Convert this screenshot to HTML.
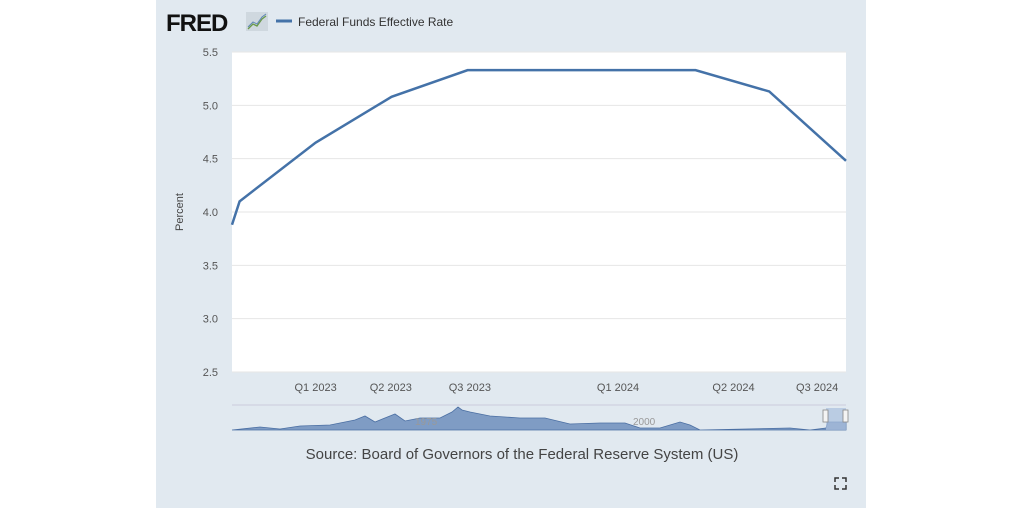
<!DOCTYPE html>
<html><head><meta charset="utf-8"><style>
html,body{margin:0;padding:0;background:#fff;}
body{width:1024px;height:512px;position:relative;overflow:hidden;font-family:"Liberation Sans",sans-serif;}
#panel{position:absolute;left:156px;top:0;width:710px;height:508px;background:#e1e9f0;}
</style></head><body>
<div id="panel"></div>
<svg width="1024" height="512" style="position:absolute;left:0;top:0">
<text x="166" y="31" font-size="24" font-weight="bold" fill="#111" letter-spacing="-1">FRED</text>
<g><rect x="246" y="12" width="22" height="19" fill="#cfd8df"/><polyline points="248,29 253,24 257,26 262,19 266,16" fill="none" stroke="#6a9a4a" stroke-width="1.3"/><polyline points="248,27 253,22 257,24 262,17 266,14" fill="none" stroke="#5f86b5" stroke-width="1"/></g>
<line x1="276" y1="21" x2="292" y2="21" stroke="#4472a8" stroke-width="3"/>
<text x="298" y="26" font-size="12" fill="#333">Federal Funds Effective Rate</text>
<rect x="232" y="52" width="614" height="320" fill="#fff"/>
<g id="grid"></g><g id="yt"></g><g id="xt"></g>
<text transform="translate(183,212) rotate(-90)" text-anchor="middle" font-size="11" fill="#444">Percent</text>
<path id="line" fill="none" stroke="#4472a8" stroke-width="2.5"/>
<g>
<line x1="232" y1="405" x2="846" y2="405" stroke="#ccd" />
<path d="M232,430 L260,427 L280,429 L300,426 L330,425 L355,420 L365,416 L375,422 L395,414 L405,421 L420,418 L440,418 L452,412 L458,407 L462,410 L470,412 L490,416 L520,418 L545,418 L570,424 L600,423 L625,423 L640,428 L660,428 L680,422 L690,425 L700,430 L790,428 L810,430 L826,428 L828,422 L846,422 L846,430 Z" fill="#7f9cc4" stroke="#4b6fa3" stroke-width="0.8"/>
<rect x="826" y="408" width="20" height="22" fill="#a9bfdd" opacity="0.7"/>
<rect x="823" y="410" width="5" height="12" fill="#f4f4f4" stroke="#888" stroke-width="0.8"/>
<rect x="843" y="410" width="5" height="12" fill="#f4f4f4" stroke="#888" stroke-width="0.8"/>
<text x="415" y="425" font-size="10" fill="#999">1975</text><text x="633" y="425" font-size="10" fill="#999">2000</text>
</g>
<text x="522" y="459" text-anchor="middle" font-size="15" fill="#444">Source: Board of Governors of the Federal Reserve System (US)</text>
<g stroke="#333" stroke-width="1.5" fill="none">
<path d="M835,482 v-4 h4 M842,478 h4 v4 M846,485 v4 h-4 M839,489 h-4 v-4"/></g>
</svg>
<script>
const xValues=[0,0.1,1.1,2.1,3.1,6.1,7.07,8.08];
const rates=[3.88,4.1,4.65,5.08,5.33,5.33,5.13,4.48];
const yTicks=[2.5,3.0,3.5,4.0,4.5,5.0,5.5];
const xTickPos=[1.1,2.09,3.13,5.08,6.6,7.7];
const xTickLabels=["Q1 2023","Q2 2023","Q3 2023","Q1 2024","Q2 2024","Q3 2024"];
const X0=232,X1=846,Y0=372,Y1=52,XMAX=8.08;
const xs=v=>X0+v/XMAX*(X1-X0);
const ys=v=>Y0-(v-2.5)/3*(Y0-Y1);
const NS="http://www.w3.org/2000/svg";
const g=document.getElementById('grid'),yt=document.getElementById('yt'),xt=document.getElementById('xt');
yTicks.forEach(t=>{
 const l=document.createElementNS(NS,'line');
 
 
 l.setAttribute('x1',X0);l.setAttribute('x2',X1);l.setAttribute('y1',ys(t));l.setAttribute('y2',ys(t));
 l.setAttribute('stroke','#e6e6e6');g.appendChild(l);
 const tx=document.createElementNS(NS,'text');
 
 
 tx.setAttribute('x',218);tx.setAttribute('y',ys(t)+4);tx.setAttribute('text-anchor','end');
 tx.setAttribute('font-size','11');tx.setAttribute('fill','#555');tx.textContent=t.toFixed(1);yt.appendChild(tx);
});
xTickPos.forEach((p,i)=>{
 const tx=document.createElementNS(NS,'text');
 
 
 tx.setAttribute('x',xs(p));tx.setAttribute('y',391);tx.setAttribute('text-anchor','middle');
 tx.setAttribute('font-size','11');tx.setAttribute('fill','#555');tx.textContent=xTickLabels[i];xt.appendChild(tx);
});
document.getElementById('line').setAttribute('d',xValues.map((x,i)=>(i?'L':'M')+xs(x)+','+ys(rates[i])).join(' '));
</script>
</body></html>
